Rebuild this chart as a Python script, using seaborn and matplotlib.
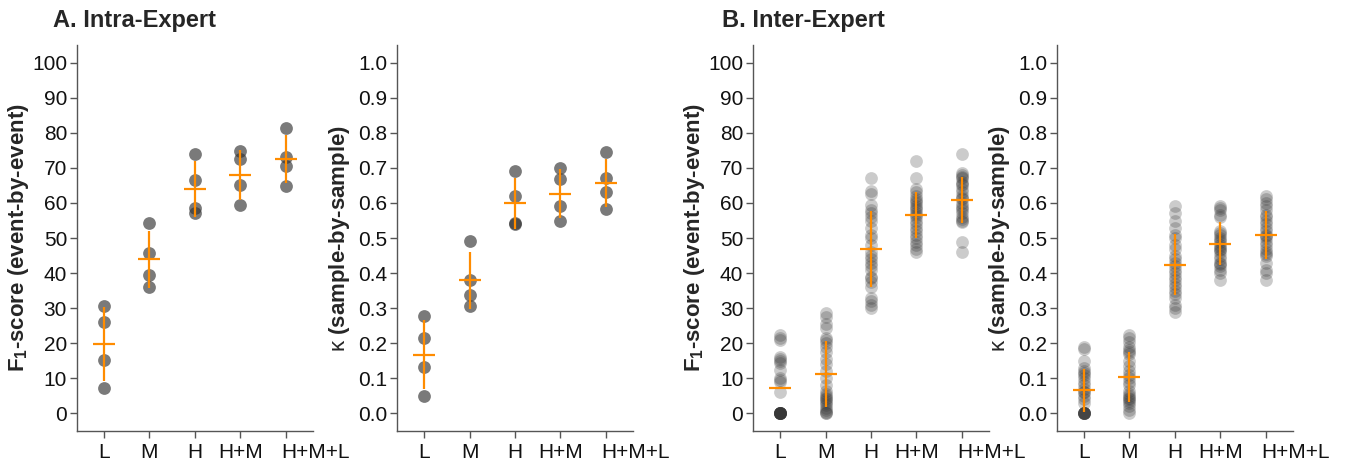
import pandas as pd
import numpy as np
import matplotlib
matplotlib.use("Agg")
import matplotlib.pyplot as plt
import matplotlib.transforms as mtrans
import seaborn as sns

# categories
cats = ["L", "M", "H", "H+M", "H+M+L"]

# A. Intra-Expert, F1-score
intra_f1_L = [30.7, 26.2, 15.3, 7.2]
intra_f1_M = [54.4, 45.8, 39.5, 36.0]
intra_f1_H = [74.0, 66.5, 58.5, 57.0]
intra_f1_HM = [74.8, 72.6, 65.1, 59.5]
intra_f1_HML = [81.3, 73.1, 70.5, 64.9]

# A. Intra-Expert, kappa
intra_k_L = [0.278, 0.214, 0.131, 0.049]
intra_k_M = [0.492, 0.381, 0.338, 0.307]
intra_k_H = [0.691, 0.620, 0.544, 0.540]
intra_k_HM = [0.701, 0.667, 0.591, 0.549]
intra_k_HML = [0.745, 0.672, 0.631, 0.584]

# B. Inter-Expert, F1-score
inter_f1_L = [22.5, 21.5, 21, 16, 15.5, 15, 14.5, 12.5, 10, 9.5, 9, 6,
              0, 0, 0, 0, 0, 0, 0, 0, 0, 0, 0, 0]
inter_f1_M = [28.5, 27.5, 25.5, 24.5, 21.5, 21, 20, 19, 17.5, 15.5, 14, 12, 10,
              8, 6.5, 5.5, 5, 4.5, 4, 3.5, 3, 2.5, 1.5, 1, 0.5, 0, 0]
inter_f1_H = [67, 63.5, 62.5, 59.5, 58, 57, 56, 55, 53, 51, 50, 48, 46, 45,
              44, 43, 42, 41, 39, 38.5, 37.5, 36, 33, 32, 31, 30]
inter_f1_HM = [72, 67, 64, 63, 62, 61, 60.5, 60, 59, 58.5, 58, 57, 56.5, 56,
               55, 54, 53, 52, 51, 50, 49, 48, 47, 46]
inter_f1_HML = [74, 68.5, 68, 67.5, 67, 66, 65.5, 65, 64, 63, 62, 61.5, 61, 60,
                59, 58.5, 58, 57, 56, 55.5, 55, 54.5, 49, 46]

# B. Inter-Expert, kappa
inter_k_L = [0.19, 0.185, 0.15, 0.13, 0.12, 0.115, 0.11, 0.1, 0.09, 0.08, 0.07,
             0.06, 0.06, 0.05, 0.04, 0.03, 0, 0, 0, 0, 0, 0, 0, 0]
inter_k_M = [0.225, 0.215, 0.205, 0.19, 0.18, 0.175, 0.17, 0.15, 0.135, 0.12,
             0.11, 0.1, 0.09, 0.08, 0.065, 0.055, 0.05, 0.045, 0.04, 0.035,
             0.03, 0.02, 0.01, 0.0]
inter_k_H = [0.59, 0.57, 0.55, 0.53, 0.51, 0.5, 0.48, 0.47, 0.45, 0.44, 0.43,
             0.42, 0.41, 0.4, 0.39, 0.38, 0.37, 0.36, 0.35, 0.34, 0.33, 0.31,
             0.3, 0.29]
inter_k_HM = [0.59, 0.585, 0.58, 0.565, 0.56, 0.52, 0.515, 0.51, 0.5, 0.495,
              0.49, 0.48, 0.475, 0.47, 0.465, 0.46, 0.45, 0.44, 0.43, 0.425,
              0.42, 0.41, 0.4, 0.38]
inter_k_HML = [0.62, 0.61, 0.6, 0.59, 0.58, 0.565, 0.56, 0.55, 0.54, 0.53, 0.52,
               0.51, 0.505, 0.5, 0.49, 0.48, 0.47, 0.46, 0.455, 0.45, 0.43,
               0.41, 0.4, 0.38]

f1_ticks = [0, 10, 20, 30, 40, 50, 60, 70, 80, 90, 100]
k_ticks = [0.0, 0.1, 0.2, 0.3, 0.4, 0.5, 0.6, 0.7, 0.8, 0.9, 1.0]


def long_df(groups):
    rows = []
    for c, vals in zip(cats, groups):
        for v in vals:
            rows.append((c, v))
    return pd.DataFrame(rows, columns=["cond", "val"])


sns.set_style("ticks")
plt.rcParams['font.family'] = ['Liberation Sans', 'DejaVu Sans']
plt.rcParams['mathtext.fontset'] = 'custom'
plt.rcParams['mathtext.rm'] = 'Liberation Sans'
plt.rcParams['mathtext.bf'] = 'Liberation Sans:bold'
plt.rcParams['mathtext.it'] = 'Liberation Sans:italic'

fig = plt.figure(figsize=(13.48, 4.70), dpi=100)
lefts = [0.057, 0.2945, 0.5586, 0.784]
axes = [fig.add_axes([l, 0.083, 0.175, 0.821]) for l in lefts]

panels = [
    (long_df([intra_f1_L, intra_f1_M, intra_f1_H, intra_f1_HM, intra_f1_HML]), "f1", 0.65, []),
    (long_df([intra_k_L, intra_k_M, intra_k_H, intra_k_HM, intra_k_HML]), "k", 0.65, []),
    (long_df([inter_f1_L, inter_f1_M, inter_f1_H, inter_f1_HM, inter_f1_HML]), "f1", 0.25, ["L"]),
    (long_df([inter_k_L, inter_k_M, inter_k_H, inter_k_HM, inter_k_HML]), "k", 0.25, []),
]

orange = "#ff8c00"
for ax, (df, kind, alpha, no_err) in zip(axes, panels):
    sns.stripplot(data=df, x="cond", y="val", order=cats, jitter=False,
                  color="#333333", alpha=alpha, size=9.2, linewidth=0, ax=ax,
                  zorder=2)
    # mean +/- sd
    stats = df.groupby("cond", sort=False)["val"].agg(["mean", "std"]).reindex(cats)
    sd = stats["std"].copy()
    sd[no_err] = np.nan
    xs = np.arange(len(cats))
    ax.errorbar(xs, stats["mean"], yerr=sd, fmt="none", ecolor=orange,
                elinewidth=1.6, capsize=0, zorder=3)
    ax.plot(xs, stats["mean"], linestyle="none", marker="_", markersize=16,
            markeredgewidth=1.6, color=orange, zorder=3)

    if kind == "f1":
        ax.set_ylim(-5, 105)
        ax.set_yticks(f1_ticks)
        ax.set_yticklabels([str(t) for t in f1_ticks])
        ax.set_ylabel(r"$\mathbf{F_1}$-score (event-by-event)", fontsize=16,
                      fontweight="bold", labelpad=1)
    else:
        ax.set_ylim(-0.05, 1.05)
        ax.set_yticks(k_ticks)
        ax.set_yticklabels([f"{t:.1f}" for t in k_ticks])
        ax.set_ylabel(r"$\mathrm{\kappa}$ (sample-by-sample)", fontsize=16,
                      fontweight="bold", labelpad=4)
    ax.set_xlim(-0.6, 4.6)
    ax.set_xticks(xs)
    ax.set_xticklabels(cats)
    ax.set_xlabel("")
    ax.tick_params(axis="both", labelsize=15, length=5, width=1,
                   color="#555555", labelcolor="#111111", pad=2)
    ax.tick_params(axis="x", pad=4)
    # last label nudged right so it clears its neighbour
    lab = ax.get_xticklabels()[-1]
    lab.set_transform(lab.get_transform() +
                      mtrans.ScaledTranslation(0.30, 0, fig.dpi_scale_trans))
    for s in ["left", "bottom"]:
        ax.spines[s].set_color("#555555")
        ax.spines[s].set_linewidth(1)
    sns.despine(ax=ax)

fig.text(53 / 1348, 1 - 27 / 470, "A. Intra-Expert", fontsize=17,
         fontweight="bold", va="baseline", ha="left")
fig.text(722 / 1348, 1 - 27 / 470, "B. Inter-Expert", fontsize=17,
         fontweight="bold", va="baseline", ha="left")

fig.savefig("out.png", dpi=100)
